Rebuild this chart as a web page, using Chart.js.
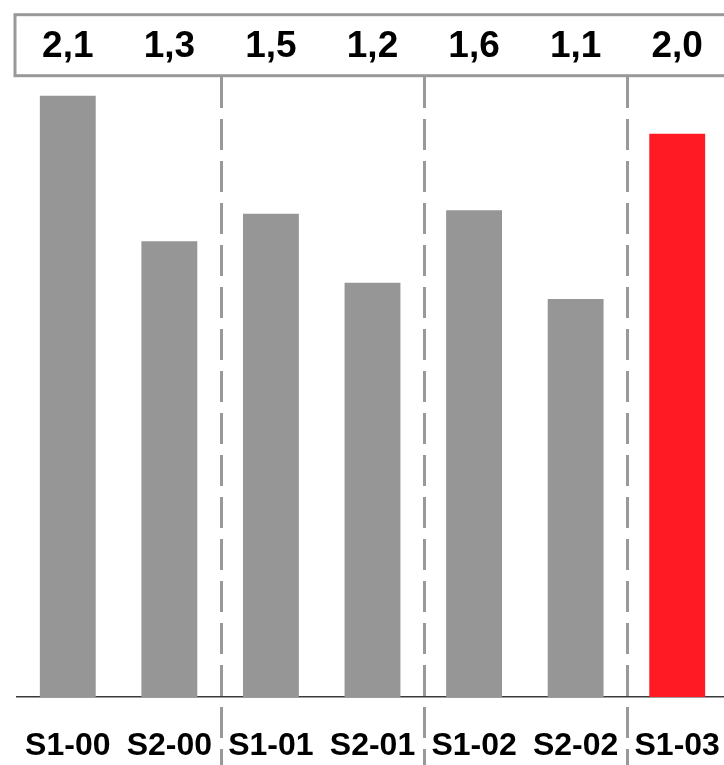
<!DOCTYPE html>
<html>
<head>
<meta charset="utf-8">
<script src="https://cdn.jsdelivr.net/npm/chart.js@4/dist/chart.umd.min.js"></script>
<style>
  html, body { margin: 0; padding: 0; background: #fff; overflow: hidden; }
  #wrap { position: absolute; left: 0; top: 0; width: 730px; height: 765px; }
</style>
</head>
<body>
<div id="wrap"><canvas id="c" width="730" height="765"></canvas></div>
<script>
// Half-year periods
const periods = ['S1-00', 'S2-00', 'S1-01', 'S2-01', 'S1-02', 'S2-02', 'S1-03'];
// Bar heights (index, 0–100 scale)
const barValues = [96.8, 73.4, 77.8, 66.7, 78.4, 64.1, 90.7];
// Figures shown in the header strip above each bar
const headerValues = ['2,1', '1,3', '1,5', '1,2', '1,6', '1,1', '2,0'];
// Year boundaries fall after these category indices
const dividerAfter = [1, 3, 5];

const GREY = '#969696';
const RED = '#ff1a24';
const LINE_GREY = '#999999';
const barColors = periods.map((p, i) => i === periods.length - 1 ? RED : GREY);

const headerPlugin = {
  id: 'headerStrip',
  afterDraw(chart) {
    const ctx = chart.ctx;
    const x = chart.scales.x;
    ctx.save();
    // dashed year separators
    ctx.strokeStyle = LINE_GREY;
    ctx.lineWidth = 3;
    ctx.setLineDash([31, 11]);
    dividerAfter.forEach(i => {
      const px = Math.round((x.getPixelForValue(i) + x.getPixelForValue(i + 1)) / 2) + 1.5;
      ctx.beginPath();
      ctx.moveTo(px, 77);
      ctx.lineTo(px, chart.height);
      ctx.stroke();
    });
    ctx.setLineDash([]);
    // header box
    ctx.strokeStyle = LINE_GREY;
    ctx.lineWidth = 3;
    ctx.strokeRect(15, 14.7, chart.width + 20, 61);
    // header figures
    ctx.fillStyle = '#000';
    ctx.font = 'bold 37px "Liberation Sans", Arial, sans-serif';
    ctx.textAlign = 'center';
    ctx.textBaseline = 'middle';
    headerValues.forEach((t, i) => {
      ctx.fillText(t, x.getPixelForValue(i), 47);
    });
    ctx.restore();
  }
};

new Chart(document.getElementById('c'), {
  type: 'bar',
  data: {
    labels: periods,
    datasets: [{
      data: barValues,
      backgroundColor: barColors,
      borderWidth: 0,
      barPercentage: 0.55,
      categoryPercentage: 1.0
    }]
  },
  options: {
    responsive: false,
    animation: false,
    layout: { padding: { left: 17, right: 2, top: 76, bottom: 0 } },
    plugins: { legend: { display: false }, tooltip: { enabled: false } },
    scales: {
      x: {
        afterFit(scale) {
          scale.height = 68;
          scale.paddingLeft = 0;
          scale.paddingRight = 0;
        },
        grid: { display: false, drawTicks: false },
        border: { display: true, color: '#3a3a3a', width: 1.5 },
        ticks: {
          color: '#000',
          padding: 30,
          maxRotation: 0,
          autoSkip: false,
          font: { family: '"Liberation Sans", Arial, sans-serif', size: 32, weight: 'bold' }
        }
      },
      y: {
        display: false,
        min: 0,
        max: 100
      }
    }
  },
  plugins: [headerPlugin]
});
</script>
</body>
</html>
